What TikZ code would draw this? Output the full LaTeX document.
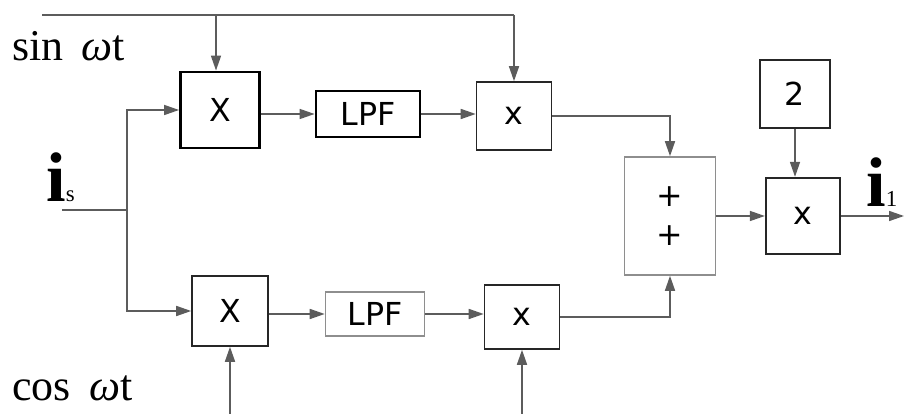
\documentclass[tikz,border=0pt]{standalone}
\usepackage{xcolor}
\usepackage{fontspec}
\setmainfont{Liberation Serif}
\newfontfamily\blockfont{DejaVu Sans}
\usepackage{tikz}
\usetikzlibrary{arrows.meta, positioning, shapes}

\definecolor{wire}{HTML}{5C5C5C}
\definecolor{faintedge}{HTML}{8E8E8E}

\tikzset{
  block/.style={draw, inner sep=0pt, font=\blockfont\fontsize{18}{24}\selectfont},
  heavy/.style={block, line width=1.6pt},
  plain/.style={block, line width=0.9pt, draw=black!85},
  faint/.style={block, line width=0.9pt, draw=faintedge},
  wireline/.style={draw=wire, line width=0.9pt},
  sig/.style={wireline, -{Triangle[length=3mm, width=2mm, fill=wire]}},
  label/.style={inner sep=0pt, anchor=base west}
}

\begin{document}
\begin{tikzpicture}[x=0.2mm, y=-0.2mm]
  \useasboundingbox (0,0) rectangle (905,414);

  \node[heavy, minimum width=15.8mm, minimum height=15.2mm] (mulA) at (220,110) {X};
  \node[heavy, minimum width=20.8mm, minimum height=9.2mm] (lpfA) at (368,114) {LPF};
  \node[plain, minimum width=15mm, minimum height=13.6mm] (prodA) at (514,116) {x};
  \node[faint, minimum width=18.2mm, minimum height=23.6mm, align=center] (sum) at (670,216) {+\\[-2pt]+};
  \node[plain, line width=1.3pt, minimum width=14mm, minimum height=13.6mm] (two) at (795,94) {2};
  \node[plain, line width=1.3pt, minimum width=14.8mm, minimum height=15.2mm] (gain) at (803,216) {x};
  \node[plain, minimum width=15.2mm, minimum height=14mm] (mulB) at (230,311) {X};
  \node[faint, minimum width=19.8mm, minimum height=8.8mm] (lpfB) at (375,314) {LPF};
  \node[plain, minimum width=15mm, minimum height=12.8mm] (prodB) at (522,317) {x};

  \node[label, font=\fontsize{25}{25}\selectfont] (sinlbl) at (12,61) {sin\, {\itshape ω}t};
  \node[label, font=\fontsize{25}{25}\selectfont] (coslbl) at (12,401) {cos\, {\itshape ω}t};
  \node[label] (islbl) at (46,202) {\fontsize{40}{40}\selectfont\bfseries i\fontsize{13}{13}\mdseries\selectfont s};
  \node[label] (iolbl) at (866,207) {\fontsize{40}{40}\selectfont\bfseries i\fontsize{13}{13}\mdseries\selectfont 1};

  \coordinate (sinL) at (42,15);
  \coordinate (sinJ) at (216,15);
  \coordinate (sinR) at (514,15);
  \coordinate (cosA) at (230,414);
  \coordinate (cosB) at (522,414);
  \coordinate (in) at (62,210);
  \coordinate (split) at (127,210);
  \coordinate (out) at (904,216);

  \draw[wireline] (sinL) -- (sinR);
  \draw[sig] (sinJ) -- (sinJ |- mulA.north);
  \draw[sig] (sinR) -- (prodA);
  \draw[sig] (cosA) -- (mulB);
  \draw[sig] (cosB) -- (prodB);

  \draw[wireline] (in) -- (split);
  \draw[sig] (split) |- (mulA);
  \draw[sig] (split) |- (mulB);

  \draw[sig] (mulA.east |- lpfA) -- (lpfA);
  \draw[sig] (lpfA.east) -- (lpfA.east -| prodA.west);
  \draw[sig] (mulB.east |- lpfB) -- (lpfB);
  \draw[sig] (lpfB.east) -- (lpfB.east -| prodB.west);

  \draw[sig] (prodA) -| (sum);
  \draw[sig] (prodB) -| (sum);
  \draw[sig] (sum) -- (gain);
  \draw[sig] (two) -- (two |- gain.north);
  \draw[sig] (gain) -- (out);
\end{tikzpicture}
\end{document}
